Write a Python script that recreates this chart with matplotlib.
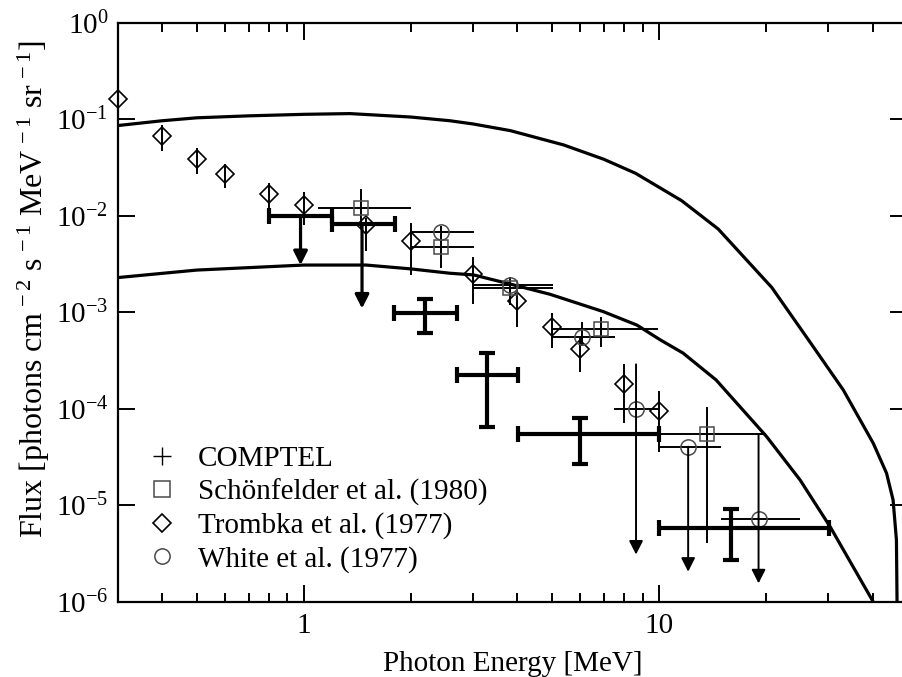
import matplotlib
matplotlib.use("Agg")
import matplotlib.pyplot as plt
import numpy as np
from matplotlib.lines import Line2D
from matplotlib.ticker import LogLocator, NullLocator, NullFormatter

plt.rcParams['font.family'] = ['Liberation Serif', 'DejaVu Serif']
plt.rcParams['mathtext.fontset'] = 'custom'
plt.rcParams['mathtext.rm'] = 'Liberation Serif'
plt.rcParams['mathtext.it'] = 'Liberation Serif:italic'
plt.rcParams['mathtext.bf'] = 'Liberation Serif:bold'

# model curves
upper_E = [0.3, 0.4, 0.5, 0.7, 1.0, 1.35, 2.0, 2.58, 3.0, 3.82, 5.4, 7.0, 8.6, 11.6,
           14.7, 20.8, 26.4, 33.1, 40.2, 43.8, 45.7, 46.7, 46.9]
upper_F = [0.0865, 0.097, 0.104, 0.109, 0.113, 0.115, 0.106, 0.097, 0.0898, 0.0766,
           0.0544, 0.0387, 0.0277, 0.0144, 0.00733, 0.00182, 5.2e-4, 1.57e-4, 4.4e-5,
           2.16e-5, 1.14e-5, 4.4e-6, 9e-7]
lower_E = [0.3, 0.5, 1.0, 1.5, 2.0, 2.58, 3.01, 3.9, 4.95, 6.98, 8.68, 10.1, 11.7,
           14.5, 20.1, 25.0, 30.4, 40.2]
lower_F = [2.3e-3, 2.75e-3, 3.1e-3, 3.1e-3, 2.83e-3, 2.55e-3, 2.45e-3, 1.93e-3,
           1.54e-3, 1.02e-3, 7.4e-4, 5.2e-4, 3.8e-4, 2.0e-4, 5.2e-5, 1.84e-5, 6.0e-6, 1e-6]

# COMPTEL
comp_E = np.array([0.98, 1.46, 2.19, 3.28, 6.0, 16.0])
comp_F = np.array([1.0e-2, 8.26e-3, 9.8e-4, 2.25e-4, 5.46e-5, 5.89e-6])
comp_Elo = np.array([0.80, 1.20, 1.80, 2.70, 4.01, 10.0])
comp_Ehi = np.array([1.20, 1.81, 2.71, 4.01, 10.0, 30.2])
comp_Fhi = np.array([1.0e-2, 8.26e-3, 1.37e-3, 3.83e-4, 8.1e-5, 9.1e-6])
comp_Flo = np.array([3.1e-3, 1.1e-3, 6.2e-4, 6.56e-5, 2.67e-5, 2.7e-6])
comp_ul = np.array([True, True, False, False, False, False])

# Schoenfelder et al. (1980)
sch_E = np.array([1.45, 2.44, 3.82, 6.87, 13.7])
sch_F = np.array([0.012, 4.8e-3, 1.78e-3, 6.75e-4, 5.46e-5])
sch_Elo = np.array([1.10, 2.02, 3.02, 5.02, 10.0])
sch_Ehi = np.array([2.0, 3.02, 5.03, 9.98, 20.1])
sch_Fhi = np.array([0.0189, 6.5e-3, 2.1e-3, 9.0e-4, 1.06e-4])
sch_Flo = np.array([7.5e-3, 2.87e-3, 1.2e-3, 4.36e-4, 4.1e-6])

# Trombka et al. (1977)
tr_E = np.array([0.3, 0.4, 0.5, 0.6, 0.8, 1.0, 1.5, 2.0, 3.0, 4.0, 5.0, 6.0, 8.0, 10.0])
tr_F = np.array([0.162, 0.0675, 0.039, 0.027, 0.017, 0.0131, 0.0081, 0.0055, 0.00249,
                 0.0013, 7.0e-4, 4.2e-4, 1.82e-4, 9.6e-5])
tr_Fhi = np.array([0.216, 0.0877, 0.0503, 0.0346, 0.0218, 0.0179, 0.0095, 0.0085,
                   0.00373, 0.0017, 9.8e-4, 5.5e-4, 2.9e-4, 1.55e-4])
tr_Flo = np.array([0.13, 0.0472, 0.0272, 0.0194, 0.012, 0.0081, 0.0043, 0.00245,
                   0.00122, 7.1e-4, 4.3e-4, 2.44e-4, 7.2e-5, 3.6e-5])

# White et al. (1977)
wh_E = np.array([2.44, 3.82, 6.07, 8.63, 12.1, 19.1])
wh_F = np.array([6.9e-3, 1.93e-3, 5.6e-4, 1.0e-4, 4.07e-5, 7.2e-6])
wh_Elo = np.array([2.02, 3.02, 5.0, 7.5, 10.0, 15.0])
wh_Ehi = np.array([3.02, 5.03, 7.53, 10.0, 15.0, 25.0])
wh_Fhi = np.array([7.8e-3, 2.35e-3, 7.9e-4, 2.9e-4, 4.07e-5, 5.46e-5])
wh_Flo = np.array([6.0e-3, 1.6e-3, 4.5e-4, 3.1e-6, 2.06e-6, 1.56e-6])
wh_ul = np.array([False, False, False, True, True, True])

legend_labels = ['COMPTEL', 'Schönfelder et al. (1980)', 'Trombka et al. (1977)',
                 'White et al. (1977)']
y_ticks = [1e-6, 1e-5, 1e-4, 1e-3, 1e-2, 1e-1, 1]
y_ticklabels = [r'10$^{-6}$', r'10$^{-5}$', r'10$^{-4}$', r'10$^{-3}$',
                r'10$^{-2}$', r'10$^{-1}$', r'10$^{0}$']

gray = '#4a4a4a'
thin = 1.4
thick = 3.0

fig = plt.figure(figsize=(9.02, 6.77), dpi=100)
ax = fig.add_axes([0.1308, 0.1108, 0.8747, 0.8553])
ax.set_xscale('log')
ax.set_yscale('log')
ax.set_xlim(0.3, 50)
ax.set_ylim(1e-6, 1)

ax.plot(upper_E, upper_F, color='k', lw=2.3, zorder=2)
ax.plot(lower_E, lower_F, color='k', lw=2.3, zorder=2)


def arrow(x, y0, y1, lw):
    ax.annotate('', xy=(x, y1), xytext=(x, y0),
                arrowprops=dict(arrowstyle='-|>,head_length=0.75,head_width=0.38',
                                mutation_scale=11, lw=lw, color='k',
                                shrinkA=0, shrinkB=0), zorder=4)


# Trombka diamonds
ax.errorbar(tr_E, tr_F, yerr=[tr_F - tr_Flo, tr_Fhi - tr_F], fmt='D', ms=9,
            mfc='none', mec='k', mew=1.2, ecolor='k', elinewidth=thin, capsize=0,
            clip_on=False, zorder=3)

# Schoenfelder squares
ax.errorbar(sch_E, sch_F, xerr=[sch_E - sch_Elo, sch_Ehi - sch_E],
            yerr=[sch_F - sch_Flo, sch_Fhi - sch_F], fmt='s', ms=10.5,
            mfc='none', mec=gray, mew=1.1, ecolor='k', elinewidth=thin, capsize=0,
            zorder=3)

# White circles
m = ~wh_ul
ax.errorbar(wh_E[m], wh_F[m], xerr=[wh_E[m] - wh_Elo[m], wh_Ehi[m] - wh_E[m]],
            yerr=[wh_F[m] - wh_Flo[m], wh_Fhi[m] - wh_F[m]], fmt='o', ms=11,
            mfc='none', mec=gray, mew=1.1, ecolor='k', elinewidth=thin, capsize=0,
            zorder=3)
ax.errorbar(wh_E[wh_ul], wh_F[wh_ul],
            xerr=[wh_E[wh_ul] - wh_Elo[wh_ul], wh_Ehi[wh_ul] - wh_E[wh_ul]],
            fmt='o', ms=11, mfc='none', mec=gray, mew=1.1, ecolor='k',
            elinewidth=thin, capsize=0, zorder=3)
for e, fhi, flo in zip(wh_E[wh_ul], wh_Fhi[wh_ul], wh_Flo[wh_ul]):
    arrow(e, fhi, flo, thin)

# COMPTEL
m = ~comp_ul
ax.errorbar(comp_E[m], comp_F[m], xerr=[comp_E[m] - comp_Elo[m], comp_Ehi[m] - comp_E[m]],
            yerr=[comp_F[m] - comp_Flo[m], comp_Fhi[m] - comp_F[m]], fmt='none',
            ecolor='k', elinewidth=thick, capsize=6, capthick=thick, zorder=4)
ax.errorbar(comp_E[comp_ul], comp_F[comp_ul],
            xerr=[comp_E[comp_ul] - comp_Elo[comp_ul], comp_Ehi[comp_ul] - comp_E[comp_ul]],
            fmt='none', ecolor='k', elinewidth=thick, capsize=6, capthick=thick, zorder=4)
for e, f, flo in zip(comp_E[comp_ul], comp_F[comp_ul], comp_Flo[comp_ul]):
    arrow(e, f, flo, 2.3)

# axes styling
for s in ax.spines.values():
    s.set_linewidth(1.6)
ax.set_yticks(y_ticks)
ax.set_yticklabels(y_ticklabels)
ax.yaxis.set_minor_locator(NullLocator())
ax.xaxis.set_minor_locator(LogLocator(base=10, subs=np.arange(2, 10), numticks=10))
ax.xaxis.set_minor_formatter(NullFormatter())
ax.set_xticks([1, 10])
ax.set_xticklabels(['1', '10'])
ax.set_xlim(0.3, 50)
ax.set_ylim(1e-6, 1)
ax.tick_params(which='both', direction='in', top=True, right=True, width=1.4,
               labelsize=21)
ax.tick_params(which='major', length=12)
ax.tick_params(which='minor', length=6.5)
ax.tick_params(axis='x', pad=8)
ax.tick_params(axis='y', pad=7)

ax.set_xlabel('Photon Energy [MeV]', fontsize=21)
ax.xaxis.set_label_coords(0.5, -0.085)
ax.set_ylabel(r'Flux [photons cm$^{\,-2}$ s$^{\,-1}$ MeV$^{\,-1}$ sr$^{\,-1}$]',
              fontsize=23)
ax.yaxis.set_label_coords(-0.083, 0.54)

handles = [
    Line2D([], [], ls='none', marker='+', ms=13, mew=1.0, color='k'),
    Line2D([], [], ls='none', marker='s', ms=11, mfc='none', mec=gray, mew=1.1),
    Line2D([], [], ls='none', marker='D', ms=9, mfc='none', mec='k', mew=1.2),
    Line2D([], [], ls='none', marker='o', ms=11, mfc='none', mec=gray, mew=1.1),
]
ax.legend(handles, legend_labels, loc='upper left', bbox_to_anchor=(0.022, 0.29),
          frameon=False, fontsize=21, handlelength=1.0, handletextpad=0.75,
          labelspacing=0.22, borderaxespad=0)

fig.savefig('out.png', dpi=100)
